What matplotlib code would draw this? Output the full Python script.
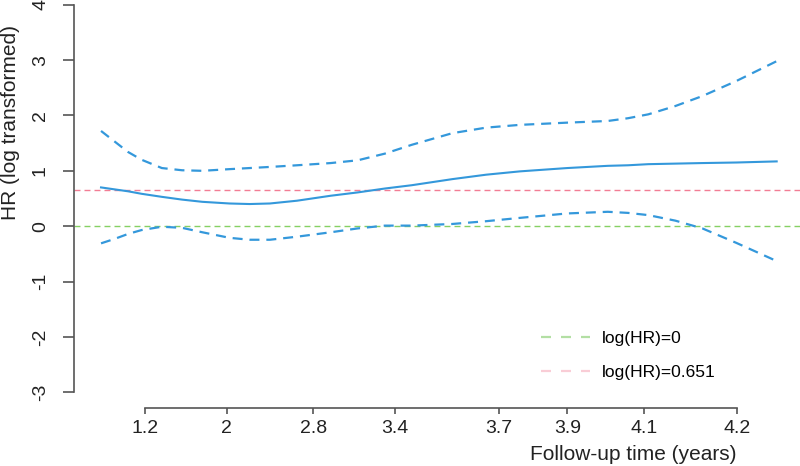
import numpy as np
import matplotlib
matplotlib.use("Agg")
import matplotlib.pyplot as plt
from matplotlib.lines import Line2D

plt.rcParams['font.family'] = ['Liberation Sans', 'DejaVu Sans']

#* x is the plotting position (0..100) used by the original figure
x = [0, 2, 4, 6, 9, 12, 15, 19, 22, 25, 29, 34, 38, 42, 46, 52, 57, 62, 69, 75, 78, 81, 85, 89, 94, 100]
hr_fit = [0.70, 0.665, 0.63, 0.585, 0.53, 0.48, 0.44, 0.41, 0.40, 0.41, 0.46, 0.55, 0.61, 0.68,
          0.74, 0.85, 0.93, 0.99, 1.05, 1.09, 1.10, 1.12, 1.13, 1.14, 1.15, 1.17]
hr_upper = [1.72, 1.53, 1.34, 1.20, 1.05, 1.01, 1.00, 1.03, 1.05, 1.07, 1.10, 1.14, 1.19, 1.31,
            1.47, 1.68, 1.78, 1.83, 1.87, 1.90, 1.95, 2.02, 2.17, 2.35, 2.62, 2.98]
hr_lower = [-0.31, -0.23, -0.14, -0.07, -0.01, -0.03, -0.11, -0.21, -0.245, -0.245, -0.19, -0.11, -0.04, 0.01,
            0.01, 0.04, 0.09, 0.15, 0.23, 0.26, 0.24, 0.20, 0.10, -0.04, -0.30, -0.63]

tick_pos = [6.5, 18.6, 31.4, 43.5, 58.9, 69.0, 80.4, 94.1]
tick_lab = ['1.2', '2', '2.8', '3.4', '3.7', '3.9', '4.1', '4.2']
y_ticks = [-3, -2, -1, 0, 1, 2, 3, 4]

ref_vals = [0, 0.651]
ref_labels = ['log(HR)=0', 'log(HR)=0.651']

blue = '#3498DB'
ref_cols = ['#86D063', '#F27D94']
leg_cols = ['#B3DFA4', '#F9CDD6']
axis_col = '#555555'

fig = plt.figure(figsize=(8, 4.66), dpi=100)
ax = fig.add_axes([74/800, 1-407.8/466, 729.7/800, 418.6/466])

for v, c in zip(ref_vals, ref_cols):
    ax.axhline(v, color=c, lw=1.0, dashes=(4.3, 2.9))

ax.plot(x, hr_fit, color=blue, lw=1.5)
ax.plot(x, hr_upper, color=blue, lw=1.6, dashes=(4.5, 3.1))
ax.plot(x, hr_lower, color=blue, lw=1.6, dashes=(4.5, 3.1))

ax.set_xlim(-4, 104)
ax.set_ylim(-3.28, 4.28)

ax.set_xticks(tick_pos)
ax.set_xticklabels(tick_lab)
ax.set_yticks(y_ticks)
ax.set_yticklabels([str(v) for v in y_ticks], rotation=90, va='center')

for s in ['top', 'right']:
    ax.spines[s].set_visible(False)
ax.spines['left'].set_bounds(-3, 4)
ax.spines['bottom'].set_bounds(tick_pos[0], tick_pos[-1])
for s in ['left', 'bottom']:
    ax.spines[s].set_color(axis_col)
    ax.spines[s].set_linewidth(1.2)

ax.tick_params(axis='y', length=8, width=1.2, color=axis_col, labelsize=14, pad=10, labelcolor='#222222')
ax.tick_params(axis='x', length=4.5, width=1.2, color=axis_col, labelsize=14, pad=4, labelcolor='#222222')

fig.text(736/800, 1-455/466, 'Follow-up time (years)', ha='right', va='center', fontsize=15, color='#222222')
fig.text(11/800, 1-123/466, 'HR (log transformed)', ha='center', va='center', rotation=90,
         fontsize=15, color='#222222')

handles = [Line2D([0], [0], color=c, lw=1.6, dashes=(4.5, 4.5)) for c in leg_cols]
ax.legend(handles, ref_labels, loc='upper left', bbox_to_anchor=(541/800, 1-331/466),
          bbox_transform=fig.transFigure, frameon=False, fontsize=12.5, borderpad=0,
          borderaxespad=0, handlelength=2.85, handletextpad=0.65, labelspacing=1.1)

fig.savefig('out.png', dpi=100)
